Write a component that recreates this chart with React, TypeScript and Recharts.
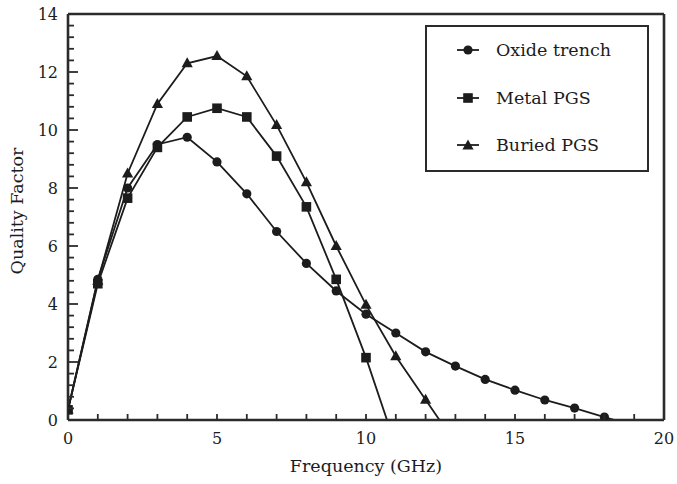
import React from 'react';
import { LineChart, Line, XAxis, YAxis, ReferenceLine, Legend } from 'recharts';

// Frequency sweep points (GHz)
const freqOxide = [0, 1, 2, 3, 4, 5, 6, 7, 8, 9, 10, 11, 12, 13, 14, 15, 16, 17, 18, 19];
const freqMetal = [0, 1, 2, 3, 4, 5, 6, 7, 8, 9, 10, 11];
const freqBuried = [0, 1, 2, 3, 4, 5, 6, 7, 8, 9, 10, 11, 12, 13];

// Quality factor per structure
const qOxide = [0.35, 4.85, 8.0, 9.5, 9.75, 8.9, 7.8, 6.5, 5.4, 4.45, 3.65, 3.0, 2.35, 1.86, 1.4, 1.03, 0.69, 0.41, 0.1, -0.2];
const qMetal = [0.35, 4.7, 7.65, 9.4, 10.45, 10.75, 10.45, 9.1, 7.35, 4.85, 2.15, -0.9];
const qBuried = [0.35, 4.8, 8.5, 10.9, 12.3, 12.55, 11.85, 10.17, 8.2, 6.0, 3.97, 2.2, 0.7, -0.8];

const seriesNames = ['Oxide trench', 'Metal PGS', 'Buried PGS'];
const seriesShapes = ['circle', 'square', 'triangle'];

// Axis ticks
const xTicks = [0, 1, 2, 3, 4, 5, 6, 7, 8, 9, 10, 11, 12, 13, 14, 15, 16, 17, 18, 19, 20];
const xLabelTicks = [0, 5, 10, 15, 20];
const yTicks = Array.from({ length: 36 }, (_, k) => (k * 2) / 5);
const yLabelTicks = [0, 2, 4, 6, 8, 10, 12, 14];

const toRows = (xs: number[], ys: number[]) => xs.map((f, i) => ({ f, q: ys[i] }));
const dataOxide = toRows(freqOxide, qOxide);
const dataMetal = toRows(freqMetal, qMetal);
const dataBuried = toRows(freqBuried, qBuried);

const INK = '#1c1c1c';
const AXIS = '#2b2b2b';
const FONT = '"DejaVu Serif", serif';

const Marker = ({ shape, cx, cy }: { shape: string; cx: number; cy: number }) => {
  if (shape === 'circle') return <circle cx={cx} cy={cy} r={4.6} fill={INK} />;
  if (shape === 'square') return <rect x={cx - 4.8} y={cy - 4.8} width={9.6} height={9.6} fill={INK} />;
  return <polygon points={`${cx},${cy - 6} ${cx + 5.6},${cy + 4} ${cx - 5.6},${cy + 4}`} fill={INK} />;
};

const makeDot = (shape: string) => (props: any) => {
  const { cx, cy, value, index } = props;
  if (cx == null || cy == null || value == null || value < 0) return <g key={`dot-${shape}-${index}`} />;
  return (
    <g key={`dot-${shape}-${index}`}>
      <Marker shape={shape} cx={cx} cy={cy} />
    </g>
  );
};

const XTick = (props: any) => {
  const { x, y, payload } = props;
  const v = payload.value;
  return (
    <g>
      <line x1={x} y1={y} x2={x} y2={y - 6} stroke={AXIS} strokeWidth={1.8} />
      {xLabelTicks.includes(v) && (
        <text x={x} y={y + 24} textAnchor="middle" fontFamily={FONT} fontSize={16} fill={INK}>
          {v}
        </text>
      )}
    </g>
  );
};

const YTick = (props: any) => {
  const { x, y, payload } = props;
  const v = payload.value;
  const r = Math.round(v);
  const major = Math.abs(v - r) < 1e-6 && yLabelTicks.includes(r);
  return (
    <g>
      <line x1={x} y1={y} x2={x + (major ? 10 : 6)} y2={y} stroke={AXIS} strokeWidth={1.8} />
      {major && (
        <text x={x - 10} y={y} dy="0.36em" textAnchor="end" fontFamily={FONT} fontSize={16} fill={INK}>
          {r}
        </text>
      )}
    </g>
  );
};

const YTitle = (props: any) => {
  const vb = props.viewBox || { x: 8, y: 14, width: 60, height: 406 };
  const cx = vb.x + 9;
  const cy = vb.y + vb.height / 2 - 6;
  return (
    <text
      x={cx}
      y={cy}
      transform={`rotate(-90 ${cx} ${cy})`}
      textAnchor="middle"
      dominantBaseline="central"
      fontFamily={FONT}
      fontSize={17.5}
      fill={INK}
    >
      Quality Factor
    </text>
  );
};

const LegendBox = () => (
  <div
    style={{
      position: 'relative',
      width: 224,
      height: 147,
      boxSizing: 'border-box',
      border: `2px solid ${AXIS}`,
      background: '#fff',
      fontFamily: FONT,
      fontSize: 17.5,
      color: INK,
    }}
  >
    {seriesNames.map((name, i) => (
      <div
        key={name}
        style={{
          position: 'absolute',
          left: 29,
          top: 23 + i * 47.5 - 12,
          height: 24,
          display: 'flex',
          alignItems: 'center',
          whiteSpace: 'nowrap',
        }}
      >
        <svg width={24} height={14} style={{ marginRight: 16 }}>
          <line x1={1} y1={7} x2={23} y2={7} stroke={INK} strokeWidth={1.8} />
          <Marker shape={seriesShapes[i]} cx={12} cy={seriesShapes[i] === 'triangle' ? 7.5 : 7} />
        </svg>
        <span>{name}</span>
      </div>
    ))}
  </div>
);

export default function App() {
  return (
    <div style={{ position: 'absolute', left: 0, top: 0, width: 677, height: 484, background: '#fff' }}>
      <LineChart width={677} height={484} margin={{ top: 14, right: 13, bottom: 0, left: 8 }}>
        <XAxis
          dataKey="f"
          type="number"
          domain={[0, 20]}
          ticks={xTicks}
          interval={0}
          allowDataOverflow
          height={64}
          tickSize={0}
          tickMargin={0}
          tickLine={false}
          tick={<XTick />}
          axisLine={{ stroke: AXIS, strokeWidth: 2.6 }}
          label={{ value: 'Frequency (GHz)', position: 'insideBottom', offset: 12, fontFamily: FONT, fontSize: 17.5, fill: INK }}
        />
        <YAxis
          type="number"
          domain={[0, 14]}
          ticks={yTicks}
          interval={0}
          allowDataOverflow
          width={60}
          tickSize={0}
          tickMargin={0}
          tickLine={false}
          tick={<YTick />}
          axisLine={{ stroke: AXIS, strokeWidth: 2.6 }}
          label={<YTitle />}
        />
        <ReferenceLine y={14} stroke={AXIS} strokeWidth={2.6} />
        <ReferenceLine x={20} stroke={AXIS} strokeWidth={2.6} />
        <Legend
          layout="vertical"
          align="center"
          verticalAlign="middle"
          content={() => <LegendBox />}
          wrapperStyle={{ left: 425, top: 25, width: 224, height: 147 }}
        />
        <Line
          data={dataOxide}
          dataKey="q"
          name={seriesNames[0]}
          type="linear"
          stroke={INK}
          strokeWidth={1.8}
          dot={makeDot('circle')}
          activeDot={false}
          isAnimationActive={false}
        />
        <Line
          data={dataMetal}
          dataKey="q"
          name={seriesNames[1]}
          type="linear"
          stroke={INK}
          strokeWidth={1.8}
          dot={makeDot('square')}
          activeDot={false}
          isAnimationActive={false}
        />
        <Line
          data={dataBuried}
          dataKey="q"
          name={seriesNames[2]}
          type="linear"
          stroke={INK}
          strokeWidth={1.8}
          dot={makeDot('triangle')}
          activeDot={false}
          isAnimationActive={false}
        />
      </LineChart>
    </div>
  );
}
